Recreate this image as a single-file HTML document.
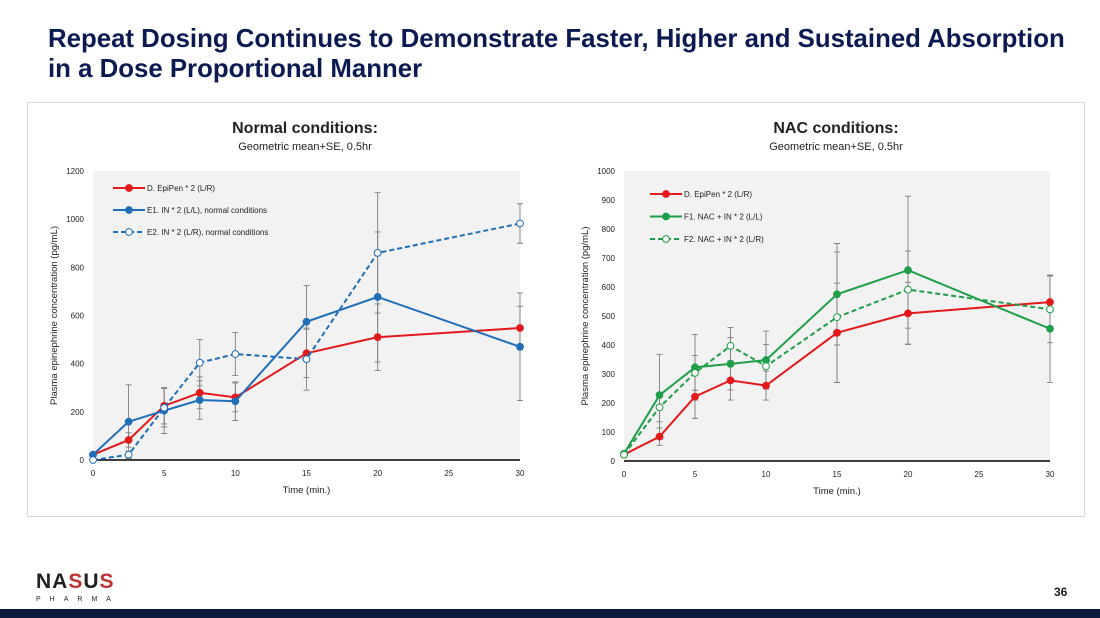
<!DOCTYPE html>
<html><head><meta charset="utf-8">
<style>
body{margin:0;width:1100px;height:618px;overflow:hidden;background:#fff;font-family:"Liberation Sans",sans-serif;position:relative}
#title{position:absolute;left:48px;top:24px;font-size:25.8px;font-weight:bold;color:#0c1a52;line-height:30px;margin:0;white-space:nowrap}
#box{position:absolute;left:27px;top:102px;width:1056px;height:413px;border:1px solid #d9d9d9}
#band{position:absolute;left:0;top:609px;width:1100px;height:9px;background:#0c1a3e}
#pg{position:absolute;left:1054px;top:585px;font-size:12px;font-weight:bold;color:#222}
#logo{position:absolute;left:36px;top:570px}
</style></head><body>
<h1 id="title">Repeat Dosing Continues to Demonstrate Faster, Higher and Sustained Absorption<br>in a Dose Proportional Manner</h1>
<div id="box"></div>
<svg id="svg" width="1100" height="618" style="position:absolute;left:0;top:0"></svg>
<div id="logo"><div style="font-size:21px;font-weight:bold;color:#222;letter-spacing:1px">NA<span style="color:#b33">S</span>U<span style="color:#b33">S</span></div><div style="font-size:7px;letter-spacing:9px;color:#222;margin-top:2px">PHARMA</div></div>
<div id="pg">36</div>
<div id="band"></div>
<script>
const times=[0,2.5,5,7.5,10,15,20,30];
const xTicks=[0,5,10,15,20,25,30];
const leftYTicks=[0,200,400,600,800,1000,1200];
const rightYTicks=[0,100,200,300,400,500,600,700,800,900,1000];
const leftNames=["D. EpiPen * 2 (L/R)","E1. IN * 2 (L/L), normal conditions","E2. IN * 2 (L/R), normal conditions"];
const leftRed=[22,83,225,279,260,443,510,548];
const leftRedSE=[5,30,75,66,60,100,138,90];
const leftBlue=[22,159,205,249,244,574,677,470];
const leftBlueSE=[5,153,95,80,80,150,270,223];
const leftDash=[0,22,217,404,440,419,860,982];
const leftDashSE=[2,15,80,96,89,129,250,82];
const rightNames=["D. EpiPen * 2 (L/R)","F1. NAC + IN * 2 (L/L)","F2. NAC + IN * 2 (L/R)"];
const rightRed=[22,84,222,278,260,442,509,548];
const rightRedSE=[3,30,75,68,50,171,107,90];
const rightGreen=[25,227,323,335,348,575,658,456];
const rightGreenSE=[3,141,113,90,100,175,255,185];
const rightDash=[22,185,304,397,327,496,591,523];
const rightDashSE=[3,50,60,63,75,225,133,115];

const svg=document.getElementById('svg');
const NS='http://www.w3.org/2000/svg';
function mk(tag,attrs,parent){const e=document.createElementNS(NS,tag);for(const k in attrs)e.setAttribute(k,attrs[k]);(parent||svg).appendChild(e);return e;}
function txt(x,y,s,size,extra,parent){const t=mk('text',Object.assign({x:x,y:y,'font-size':size,fill:'#222','font-family':'Liberation Sans, sans-serif'},extra||{}),parent);t.textContent=s;return t;}

function chart(cfg){
  const g=mk('g',{});
  
  
  const X=v=>cfg.x0+(v/30)*(cfg.x1-cfg.x0);
  const Y=v=>cfg.y0-(v/cfg.ymax)*(cfg.y0-cfg.y1);
  const bg=mk('rect',{x:cfg.x0,y:cfg.y1,width:cfg.x1-cfg.x0,height:cfg.y0-cfg.y1,fill:'#f2f2f2'},g);
  
  
  const ax=mk('line',{x1:cfg.x0,x2:cfg.x1,y1:cfg.y0,y2:cfg.y0,stroke:'#000','stroke-width':1.5},g);
  
  
  cfg.yTicks.forEach(v=>{const t=txt(cfg.x0-9,Y(v)+3,String(v),8,{'text-anchor':'end'},g);
    
    });
  xTicks.forEach(v=>{const t=txt(X(v),Y(0)+16,String(v),8,{'text-anchor':'middle'},g);
    
    });
  const xt=txt((cfg.x0+cfg.x1)/2,cfg.y0+33,'Time (min.)',9.5,{'text-anchor':'middle'},g);
  
  
  const cy=(cfg.y0+cfg.y1)/2, cx=cfg.x0-36;
  const yt=txt(cx,cy,'Plasma epinephrine concentration  (pg/mL)',9.5,{'text-anchor':'middle',transform:'rotate(-90 '+cx+' '+cy+')'},g);
  
  
  const ct=txt(cfg.cx,133,cfg.title,16,{'text-anchor':'middle','font-weight':'bold'},g);
  
  
  const st=txt(cfg.cx,150,'Geometric mean+SE, 0.5hr',11,{'text-anchor':'middle'},g);
  
  
  cfg.series.forEach((s,si)=>{
    s.vals.forEach((v,i)=>{
      const x=X(times[i]),a=Y(v+s.se[i]),b=Y(Math.max(0,v-s.se[i]));
      const eb=mk('path',{d:`M${x},${a}V${b}M${x-3},${a}H${x+3}M${x-3},${b}H${x+3}`,stroke:'#7f7f7f','stroke-width':0.9,fill:'none'},g);
      
      
    });
  });
  cfg.series.forEach((s,si)=>{
    const d=s.vals.map((v,i)=>(i?'L':'M')+X(times[i])+','+Y(v)).join('');
    const ln=mk('path',{d:d,stroke:s.color,'stroke-width':2,fill:'none','stroke-dasharray':s.dash?'5,3':'none'},g);
    
    
    s.vals.forEach((v,i)=>{
      const p=mk('circle',{cx:X(times[i]),cy:Y(v),r:3.4,fill:s.open?'#fff':s.color,stroke:s.color,'stroke-width':1},g);
      
      
    });
    const ly=cfg.legY+si*cfg.legGap, lx=cfg.legX;
    const ll=mk('line',{x1:lx,x2:lx+32,y1:ly,y2:ly,stroke:s.color,'stroke-width':2,'stroke-dasharray':s.dash?'5,3':'none'},g);
    
    
    const lc=mk('circle',{cx:lx+16,cy:ly,r:3.4,fill:s.open?'#fff':s.color,stroke:s.color},g);
    
    
    const lt=txt(lx+34,ly+3,s.name,8,{},g);
    
    
  });
}
chart({name:'normal-conditions-chart',title:'Normal conditions:',cx:305,x0:93,x1:520,y0:460,y1:171,ymax:1200,yTicks:leftYTicks,legX:113,legY:188,legGap:22,
  series:[{name:leftNames[0],vals:leftRed,se:leftRedSE,color:'#e31a1c'},
          {name:leftNames[1],vals:leftBlue,se:leftBlueSE,color:'#1f6fb8'},
          {name:leftNames[2],vals:leftDash,se:leftDashSE,color:'#1f6fb8',dash:true,open:true}]});
chart({name:'nac-conditions-chart',title:'NAC conditions:',cx:836,x0:624,x1:1050,y0:461,y1:171,ymax:1000,yTicks:rightYTicks,legX:650,legY:194,legGap:22.5,
  series:[{name:rightNames[0],vals:rightRed,se:rightRedSE,color:'#e31a1c'},
          {name:rightNames[1],vals:rightGreen,se:rightGreenSE,color:'#1e9e48'},
          {name:rightNames[2],vals:rightDash,se:rightDashSE,color:'#1e9e48',dash:true,open:true}]});
</script>
</body></html>
